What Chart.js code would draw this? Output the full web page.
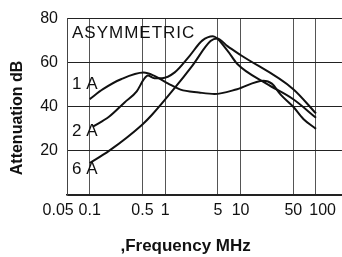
<!DOCTYPE html>
<html>
<head>
<meta charset="utf-8">
<script src="https://cdn.jsdelivr.net/npm/chart.js@4.4.1/dist/chart.umd.min.js"></script>
<style>
    html, body { margin: 0; padding: 0; background: #fff; }
</style>
</head>
<body>
<canvas id="attChart" width="342" height="257"></canvas>
<script>
    // axis ticks
    const xTickValues = [0.05, 0.1, 0.5, 1, 5, 10, 50, 100];
    const xTickLabels = ['0.05', '0.1', '0.5', '1', '5', '10', '50', '100'];
    const yTickValues = [0, 20, 40, 60, 80];

    // curves, frequency in MHz / attenuation in dB
    const seriesNames = ['1 A', '2 A', '6 A'];

    const freq1A = [0.1, 0.15, 0.26, 0.52, 0.72, 1.1, 1.6, 2.8, 4.5, 9, 20, 26, 34, 50, 68, 100];
    const att1A = [43.5, 48, 52.5, 55.5, 54, 50.5, 47.8, 46.5, 45.8, 48, 51.8, 50.5, 45.5, 40, 34.5, 30];

    const freq2A = [0.11, 0.18, 0.29, 0.42, 0.52, 0.59, 0.72, 0.91, 1.34, 2.1, 3.1, 4.3, 6.7, 9, 22, 50, 100];
    const att2A = [31, 35.5, 42, 47, 52.4, 54.2, 53, 53, 55.6, 63, 70, 72, 65.5, 59.5, 50.5, 43.4, 35];

    const freq6A = [0.1, 0.18, 0.5, 0.67, 1.3, 2.3, 4, 4.9, 6.7, 10, 50, 100];
    const att6A = [14.5, 20, 32, 36.4, 48, 58.7, 69.8, 71, 67.5, 63.5, 48, 37];

    const FONT = "'Liberation Sans', Arial, sans-serif";
    Chart.defaults.font.family = FONT;
    Chart.defaults.color = '#111';

    function toPoints(xs, ys) {
        return xs.map(function (x, i) {
            return {x: x, y: ys[i]};
        });
    }

    function curve(label, xs, ys) {
        return {
            label: label,
            data: toPoints(xs, ys),
            borderColor: '#111',
            borderWidth: 2,
            pointRadius: 0,
            cubicInterpolationMode: 'monotone',
            fill: false
        };
    }

    // text written inside the plot
    const curveLabels = {
        id: 'curveLabels',
        afterDraw(chart) {
            const ctx = chart.ctx;
            const area = chart.chartArea;
            const y = chart.scales.y;
            const levels = [50.2, 28.9, 11.6];
            ctx.save();
            ctx.fillStyle = '#111';
            ctx.textAlign = 'left';
            ctx.textBaseline = 'middle';
            ctx.font = '17px ' + FONT;
            ctx.letterSpacing = '1px';
            ctx.fillText('ASYMMETRIC', area.left + 5, y.getPixelForValue(73.3));
            ctx.letterSpacing = '0px';
            seriesNames.forEach(function (name, i) {
                ctx.fillText(name, area.left + 5, y.getPixelForValue(levels[i]));
            });
            ctx.restore();
        }
    };

    const ctx = document.getElementById('attChart').getContext('2d');

    const attChart = new Chart(ctx, {
        type: 'line',
        data: {
            datasets: [
                curve(seriesNames[0], freq1A, att1A),
                curve(seriesNames[1], freq2A, att2A),
                curve(seriesNames[2], freq6A, att6A)
            ]
        },
        options: {
            responsive: false,
            animation: false,
            layout: {padding: {top: 15, right: 0, bottom: 0, left: 0}},
            plugins: {
                legend: {display: false},
                tooltip: {enabled: false}
            },
            scales: {
                x: {
                    type: 'logarithmic',
                    min: 0.05,
                    max: 221,
                    afterBuildTicks: function (scale) {
                        scale.ticks = xTickValues.map(function (v) {
                            return {value: v};
                        });
                    },
                    afterFit: function (scale) {
                        scale.height = 62;
                    },
                    ticks: {
                        autoSkip: false,
                        maxRotation: 0,
                        minRotation: 0,
                        padding: 6,
                        font: {size: 16},
                        color: '#111',
                        callback: function (value, index) {
                            const label = xTickLabels[index];
                            // end labels sit a little outside their grid lines
                            if (index === 0) return label + '    ';
                            if (index === xTickLabels.length - 1) return '   ' + label;
                            return label;
                        }
                    },
                    grid: {color: '#555', lineWidth: 1, drawTicks: false},
                    border: {color: '#222', width: 1.5},
                    title: {
                        display: true,
                        text: ',Frequency MHz        ',
                        font: {size: 17, weight: 'bold'},
                        color: '#111',
                        padding: {top: 0, bottom: 0}
                    }
                },
                y: {
                    min: 0,
                    max: 80,
                    afterBuildTicks: function (scale) {
                        scale.ticks = yTickValues.map(function (v) {
                            return {value: v};
                        });
                    },
                    afterFit: function (scale) {
                        scale.width = 67;
                    },
                    ticks: {
                        padding: 9,
                        font: {size: 16},
                        color: '#111',
                        callback: function (value) {
                            return value === 0 ? '' : value;
                        }
                    },
                    grid: {color: '#222', lineWidth: 1, drawTicks: false},
                    border: {color: '#444', width: 1},
                    title: {
                        display: true,
                        text: 'Attenuation dB     ',
                        font: {size: 16, weight: 'bold'},
                        color: '#111',
                        padding: {top: 8, bottom: 0}
                    }
                }
            }
        },
        plugins: [curveLabels]
    });
</script>
</body>
</html>
